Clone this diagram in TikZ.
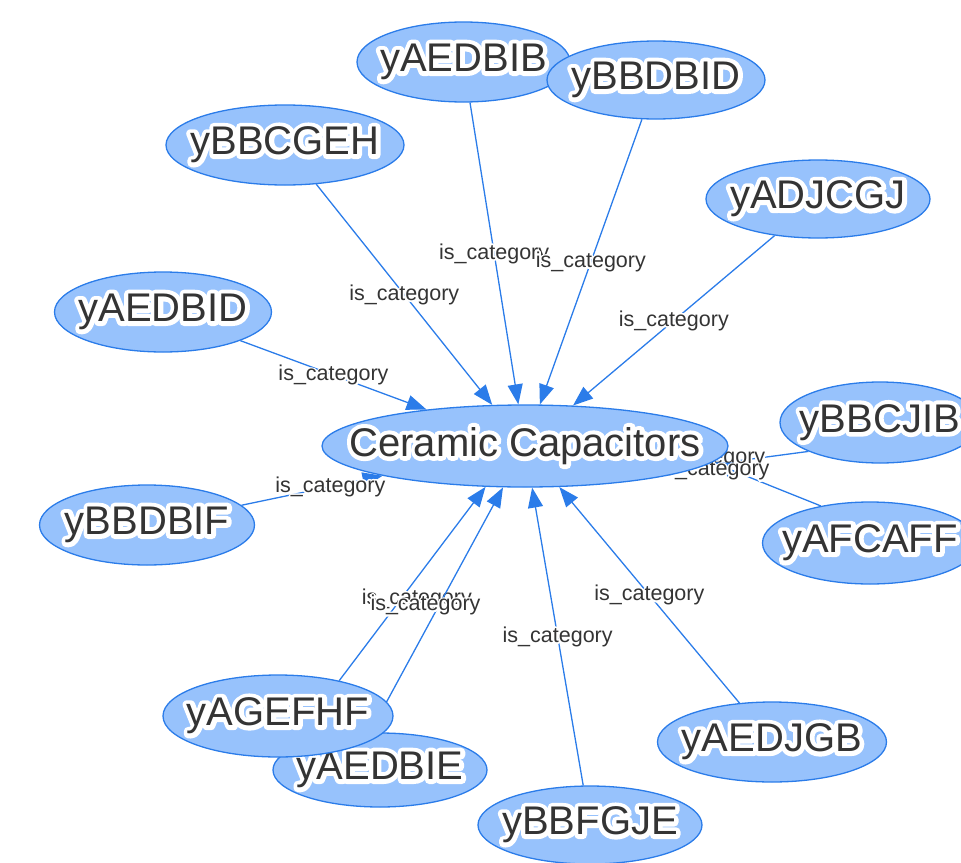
\documentclass[tikz,border=0pt]{standalone}
\usepackage{fontspec}
\setmainfont{Liberation Sans}
\newfontfamily\halofont{Liberation Sans}[FakeBold=22]
\newfontfamily\lblhalofont{Liberation Sans}[FakeBold=16]
\usetikzlibrary{shapes.geometric,arrows.meta}
\definecolor{nodefill}{HTML}{97C2FC}
\definecolor{nodeline}{HTML}{2B7CE9}
\definecolor{edgecol}{HTML}{2B7CE9}
\definecolor{txtcol}{HTML}{343434}
\pgfdeclarelayer{edgelayer}
\pgfsetlayers{edgelayer,main}
\newcommand\halotxt[1]{\makebox[0pt]{\pgfsetroundjoin\rlap{\halofont\color{white}#1}#1}}
\newcommand\lbltxt[1]{\makebox[0pt]{\pgfsetroundjoin\rlap{\lblhalofont\color{white}#1}#1}}
\tikzset{
  ent/.style={ellipse, draw=nodeline, fill=nodefill, line width=1.3pt, inner sep=0pt,
    text=txtcol, font=\fontsize{40}{48}\selectfont},
  rel/.style={-{Triangle[length=20pt,width=15pt]}, draw=edgecol, line width=1.3pt},
  lbl/.style={text=txtcol, font=\fontsize{21.5}{24}\selectfont, inner sep=0pt},
}
\begin{document}
\begin{tikzpicture}[x=1pt,y=-1pt]
\useasboundingbox (0,0) rectangle (961,862);
% nodes
\node[ent, minimum width=406pt, minimum height=82pt] (cc) at (525,446) {\halotxt{Ceramic Capacitors}};
\node[ent, minimum width=213pt, minimum height=80pt] (ab) at (463.5,62) {\halotxt{yAEDBIB}};
\node[ent, minimum width=218pt, minimum height=78pt] (bd) at (656,80) {\halotxt{yBBDBID}};
\node[ent, minimum width=238pt, minimum height=80pt] (bc) at (285,145) {\halotxt{yBBCGEH}};
\node[ent, minimum width=224pt, minimum height=78pt] (aj) at (818,199) {\halotxt{yADJCGJ}};
\node[ent, minimum width=217pt, minimum height=80pt] (ad) at (163,312) {\halotxt{yAEDBID}};
\node[ent, minimum width=200pt, minimum height=81pt] (bj) at (880,422.5) {\halotxt{yBBCJIB}};
\node[ent, minimum width=215pt, minimum height=82pt] (af) at (870,543) {\halotxt{yAFCAFF}};
\node[ent, minimum width=215pt, minimum height=80pt] (bf) at (147,525) {\halotxt{yBBDBIF}};
\node[ent, minimum width=214pt, minimum height=74pt] (ae) at (380,770) {\halotxt{yAEDBIE}};
\node[ent, minimum width=230pt, minimum height=82pt] (ag) at (278,716) {\halotxt{yAGEFHF}};
\node[ent, minimum width=224pt, minimum height=78pt] (bg) at (590,825) {\halotxt{yBBFGJE}};
\node[ent, minimum width=229pt, minimum height=80pt] (jg) at (772,742) {\halotxt{yAEDJGB}};
% edges
\begin{pgfonlayer}{edgelayer}
\draw[rel] (bc) -- node[lbl] (l1) {\lbltxt{is\_category}} (cc);
\draw[rel] (ab) -- node[lbl] (l2) {\lbltxt{is\_category}} (cc);
\draw[rel] (bd) -- node[lbl] (l3) {\lbltxt{is\_category}} (cc);
\draw[rel] (aj) -- node[lbl] (l4) {\lbltxt{is\_category}} (cc);
\draw[rel] (ad) -- node[lbl] (l5) {\lbltxt{is\_category}} (cc);
\draw[rel] (bf) -- node[lbl, pos=0.63] (l6) {\lbltxt{is\_category}} (cc);
\draw[rel] (bj.202) -- node[lbl, xshift=-47pt] (l7) {\lbltxt{is\_category}} (cc.-6);
\draw[rel] (af.143) -- node[lbl, xshift=-52pt, yshift=14pt] (l8) {\lbltxt{is\_category}} (cc.-5);
\draw[rel] (ag.30) -- node[lbl, xshift=4.5pt, yshift=-15pt] (l9) {\lbltxt{is\_category}} (cc.226);
\draw[rel] (ae.105) -- node[lbl, xshift=-11pt, yshift=5pt] (l10) {\lbltxt{is\_category}} (cc.242);
\draw[rel] (bg) -- node[lbl] (l11) {\lbltxt{is\_category}} (cc);
\draw[rel] (jg) -- node[lbl] (l12) {\lbltxt{is\_category}} (cc);
\end{pgfonlayer}
\end{tikzpicture}
\end{document}
